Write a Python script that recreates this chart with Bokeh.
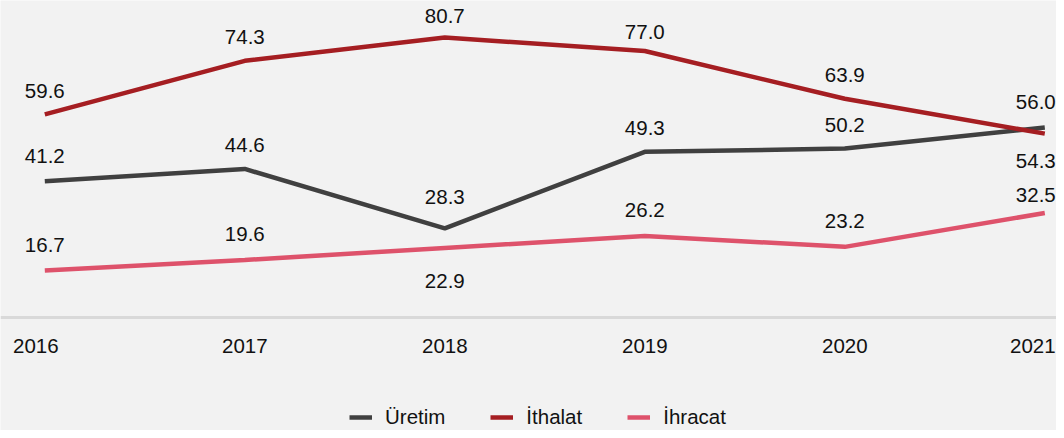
from bokeh.plotting import figure
from bokeh.models import (ColumnDataSource, Legend, LegendItem, FixedTicker, Range1d,
                          NumeralTickFormatter)
from bokeh.core.properties import value
from bokeh.embed import file_html
from bokeh.resources import INLINE

years = [2016, 2017, 2018, 2019, 2020, 2021]
uretim = [41.2, 44.6, 28.3, 49.3, 50.2, 56.0]
ithalat = [59.6, 74.3, 80.7, 77.0, 63.9, 54.3]
ihracat = [16.7, 19.6, 22.9, 26.2, 23.2, 32.5]
series_names = ["Üretim", "İthalat", "İhracat"]

# label placement (style only): pixel offsets of the value labels
off_uretim = [-25, -24, -31, -24, -24, -25]
off_ithalat = [-23, -24, -22, -19, -24, 27]
off_ihracat = [-26, -26, 33, -26, -26, -18]
xoff = [0, 0, 0, 0, 0, -9]
tick_shift = [-0.045, 0, 0, 0, 0, -0.06]
AXIS_AT = 3.79  # value where the baseline axis sits

colors = ["#404040", "#A51E22", "#DE526B"]
FONT = "Liberation Sans"
BG = "#f2f2f2"
TXT = "#111111"

p = figure(width=1056, height=430, output_backend="svg", toolbar_location=None,
           x_range=Range1d(2015.7785, 2021.0585), y_range=Range1d(-27.25, 90.88),
           min_border_left=0, min_border_right=0, min_border_top=0, min_border_bottom=0)
p.background_fill_color = BG
p.border_fill_color = BG
p.outline_line_color = None
p.xgrid.visible = False
p.ygrid.visible = False
p.yaxis.visible = False

ax = p.xaxis[0]
ax.fixed_location = AXIS_AT
ax.ticker = FixedTicker(ticks=[y + s for y, s in zip(years, tick_shift)])
ax.formatter = NumeralTickFormatter(format="0")
ax.axis_line_color = "#d9d9d9"
ax.axis_line_width = 3
ax.major_tick_line_color = None
ax.minor_tick_line_color = None
ax.major_label_text_font = FONT
ax.major_label_text_font_size = "20.5px"
ax.major_label_text_color = TXT
ax.major_label_standoff = 15

items = []
for name, vals, offs, col in [(series_names[0], uretim, off_uretim, colors[0]),
                              (series_names[1], ithalat, off_ithalat, colors[1]),
                              (series_names[2], ihracat, off_ihracat, colors[2])]:
    src = ColumnDataSource(dict(x=years, y=vals, lab=[f"{v:.1f}" for v in vals],
                                yo=offs, xo=xoff))
    r = p.line("x", "y", source=src, line_color=col, line_width=4.5)
    p.text("x", "y", text="lab", source=src, y_offset="yo", x_offset="xo",
           text_font=value(FONT), text_font_size="20.5px", text_color=TXT,
           text_align="center", text_baseline="middle")
    items.append(LegendItem(label=name, renderers=[r]))

legend = Legend(items=items, orientation="horizontal", location=(349, 1),
                label_text_font=FONT, label_text_font_size="20.5px",
                label_text_color=TXT, glyph_width=23, glyph_height=22,
                label_standoff=13, spacing=45, padding=0, margin=0,
                border_line_color=None, background_fill_alpha=0)
p.add_layout(legend, "center")

open("out.html", "w").write(file_html(p, INLINE))
